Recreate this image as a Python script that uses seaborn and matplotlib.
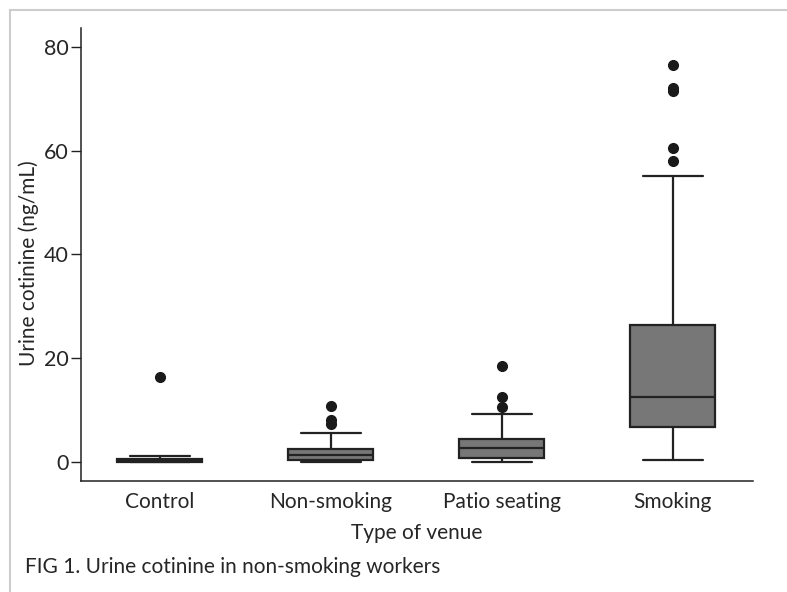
import matplotlib
matplotlib.use("Agg")
import matplotlib.pyplot as plt
from matplotlib.patches import Rectangle
import seaborn as sns
import pandas as pd

# venue categories and the urine cotinine readings (ng/mL)
venues = ["Control", "Non-smoking", "Patio seating", "Smoking"]
control = [0.0, 0.0, 0.0, 0.1, 0.2, 0.3, 0.5, 1.2, 16.3]
non_smoking = [0.0, 0.1, 0.2, 0.3, 0.4, 0.6, 0.9, 1.1, 1.4, 1.7, 2.0, 2.3, 2.5,
               5.5, 7.3, 8.1, 10.7]
patio = [0.0, 0.2, 0.3, 0.5, 0.7, 1.2, 1.8, 2.3, 2.7, 3.2, 3.6, 4.0, 4.5,
         9.3, 10.5, 12.6, 18.4]
smoking = [0.3, 2.1, 3.5, 4.8, 5.6, 6.2, 6.7, 8.0, 9.1, 10.2, 11.0, 11.8, 12.5,
           14.0, 16.3, 18.9, 21.5, 24.0, 26.3, 55.0, 58.0, 60.4, 71.5, 72.0, 76.4]
y_ticks = [0, 20, 40, 60, 80]

groups = [control, non_smoking, patio, smoking]
df = pd.DataFrame({
    "venue": [v for v, g in zip(venues, groups) for _ in g],
    "cotinine": [x for g in groups for x in g],
})

sns.set_style("white")
plt.rcParams["font.family"] = ["Lato", "DejaVu Sans"]

fig = plt.figure(figsize=(7.87, 5.92), dpi=100)
ax = fig.add_axes([0.1029, 0.1875, 0.8539, 0.7652])

line = "#222222"
sns.boxplot(data=df, x="venue", y="cotinine", order=venues, ax=ax,
            color="#777777", fill=True, width=0.5, linewidth=1.6,
            linecolor=line, capwidths=0.35,
            flierprops=dict(marker="o", markerfacecolor="#1a1a1a",
                            markeredgecolor="#1a1a1a", markersize=7))

ax.set_xlim(-0.46, 3.47)
ax.set_ylim(-3.66, 83.6)
ax.set_yticks(y_ticks)
ax.set_yticklabels([str(t) for t in y_ticks])
ax.tick_params(axis="y", length=7, width=1, color="#222222", labelsize=15.5, pad=2,
               left=True)
ax.tick_params(axis="x", length=0, labelsize=15, pad=8)
for s in ["top", "right"]:
    ax.spines[s].set_visible(False)
for s in ["left", "bottom"]:
    ax.spines[s].set_color("#222222")
    ax.spines[s].set_linewidth(1.1)

ax.set_xlabel("Type of venue", fontsize=15, labelpad=8)
ax.set_ylabel("Urine cotinine (ng/mL)", fontsize=15, labelpad=3)
ax.yaxis.set_label_coords(-0.062, 0.48)

# caption and the light frame around the figure
fig.text(25 / 787, 1 - 567 / 592, "FIG 1. Urine cotinine in non-smoking workers",
         fontsize=15, va="center", ha="left")
fig.patches.append(Rectangle((10 / 787, -0.1), 1.2, (582 / 592) + 0.1,
                             transform=fig.transFigure, fill=False,
                             edgecolor="#cccccc", linewidth=1.5))

fig.savefig("out.png", dpi=100)
